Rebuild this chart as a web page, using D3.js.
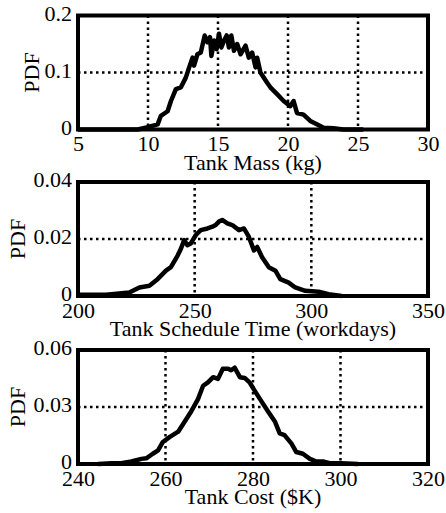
<!DOCTYPE html>
<html>
<head>
<meta charset="utf-8">
<script src="https://cdn.jsdelivr.net/npm/d3@7"></script>
<style>
  body { margin: 0; background: #fff; }
  svg text { font-family: "Liberation Serif", "Times New Roman", serif; fill: #000; }
</style>
</head>
<body>
<svg width="446" height="513"></svg>
<script>
// panel 1 : tank mass
var massX = [5, 9.27, 9.98, 10.69, 10.92, 11.4, 11.64, 11.99, 12.35, 12.7, 12.94, 13.18, 13.29, 13.53, 13.77,
    14.05, 14.24, 14.43, 14.53, 14.72, 14.9, 15.07, 15.24, 15.43, 15.62, 15.78, 15.95, 16.14, 16.37, 16.61,
    16.97, 17.2, 17.44, 17.68, 17.8, 18.03, 18.51, 18.74, 19.22, 19.69, 20.17, 20.4, 20.64, 21.11, 21.59,
    22.06, 22.54, 23.25, 23.96, 25.38];
var massY = [0, 0, 0.004, 0.009, 0.024, 0.032, 0.05, 0.071, 0.074, 0.091, 0.109, 0.126, 0.112, 0.132, 0.135,
    0.165, 0.153, 0.162, 0.129, 0.156, 0.141, 0.168, 0.144, 0.156, 0.165, 0.144, 0.165, 0.138, 0.15, 0.132,
    0.147, 0.126, 0.135, 0.109, 0.126, 0.1, 0.082, 0.074, 0.062, 0.05, 0.041, 0.05, 0.029, 0.026, 0.015,
    0.009, 0.003, 0.002, 0, 0];

// panel 2 : schedule time
var timeX = [200.7, 212.1, 222, 226.3, 230.6, 234.1, 237.7, 239.8, 242.7, 244.1, 245.5, 246.9, 248.3, 250.5,
    252.6, 255.5, 257.6, 259, 260.4, 261.8, 264, 266.1, 269, 271.1, 273.2, 275.4, 276.8, 278.9, 281.8,
    284.6, 286.7, 290.3, 293.1, 297.4, 303.1, 307.4, 313];
var timeY = [0.0004, 0.0004, 0.0012, 0.003, 0.0036, 0.0059, 0.0089, 0.0101, 0.0142, 0.0166, 0.0196, 0.0178,
    0.0184, 0.0214, 0.0231, 0.0237, 0.0243, 0.0249, 0.0261, 0.0267, 0.0255, 0.0249, 0.0231, 0.0237, 0.0208,
    0.016, 0.0172, 0.0136, 0.0101, 0.0089, 0.0059, 0.0047, 0.003, 0.0018, 0.0015, 0.0006, 0];

// panel 3 : cost
var costX = [244.6, 247.6, 249.9, 252.2, 254.5, 255.6, 257.1, 258.3, 259.4, 261, 262.9, 264.4, 265.9, 267.4,
    268.6, 269.7, 270.9, 272, 273.1, 274.3, 275, 275.8, 277, 278.1, 279.2, 280.4, 281.9, 283.4, 285,
    286.1, 287.2, 288.8, 289.9, 291.4, 293, 294.5, 296, 297.5, 300.2, 304];
var costY = [0, 0.0004, 0.0004, 0.0013, 0.0027, 0.003, 0.0054, 0.0072, 0.0116, 0.0143, 0.017, 0.0224, 0.0278,
    0.034, 0.0412, 0.043, 0.0457, 0.0448, 0.0501, 0.0501, 0.0493, 0.0507, 0.0457, 0.0453, 0.043, 0.0385,
    0.0331, 0.0278, 0.0224, 0.0161, 0.0152, 0.0107, 0.0063, 0.0054, 0.0027, 0.0013, 0.0013, 0.0004,
    0.0004, 0];

var panels = [
    { xs: massX, ys: massY, xDom: [5, 30], xTicks: [5, 10, 15, 20, 25, 30], yDom: [0, 0.2], yTicks: [0, 0.1, 0.2],
      yFmt: d => d == 0 ? "0" : d3.format(".1f")(d), label: "Tank Mass (kg)", pdfX: 39 },
    { xs: timeX, ys: timeY, xDom: [200, 350], xTicks: [200, 250, 300, 350], yDom: [0, 0.04], yTicks: [0, 0.02, 0.04],
      yFmt: d => d == 0 ? "0" : d3.format(".2f")(d), label: "Tank Schedule Time (workdays)", pdfX: 25 },
    { xs: costX, ys: costY, xDom: [240, 320], xTicks: [240, 260, 280, 300, 320], yDom: [0, 0.06], yTicks: [0, 0.03, 0.06],
      yFmt: d => d == 0 ? "0" : d3.format(".2f")(d), label: "Tank Cost ($K)", pdfX: 25 }
];

var svg = d3.select("svg");
var left = 78, right = 428;
var tops = [15.5, 182, 350], h = 114;

panels.forEach(function (p, k) {
    var top = tops[k], bot = top + h;
    var g = svg.append("g");

    var scX = d3.scaleLinear().domain(p.xDom).range([left, right]);
    var scY = d3.scaleLinear().domain(p.yDom).range([bot, top]);

    // dotted grid
    g.selectAll("line.vg")
        .data(p.xTicks.slice(1, -1))
        .enter().append("line")
        .attr("x1", d => scX(d)).attr("x2", d => scX(d))
        .attr("y1", top).attr("y2", bot)
        .attr("stroke", "#000").attr("stroke-width", 2.5).attr("stroke-dasharray", "2.5,3.5");
    g.selectAll("line.hg")
        .data(p.yTicks.slice(1, -1))
        .enter().append("line")
        .attr("x1", left).attr("x2", right)
        .attr("y1", d => scY(d)).attr("y2", d => scY(d))
        .attr("stroke", "#000").attr("stroke-width", 2.5).attr("stroke-dasharray", "2.5,3.5");

    var pts = p.xs.map((x, i) => [x, p.ys[i]]);
    var line = d3.line().x(d => scX(d[0])).y(d => scY(d[1]));
    g.append("path")
        .attr("d", line(pts))
        .attr("fill", "none").attr("stroke", "#000").attr("stroke-width", 4.5)
        .attr("stroke-linejoin", "round");

    g.append("rect")
        .attr("x", left).attr("y", top).attr("width", right - left).attr("height", h)
        .attr("fill", "none").attr("stroke", "#000").attr("stroke-width", 4);

    var ax = g.append("g")
        .attr("transform", "translate(0," + bot + ")")
        .call(d3.axisBottom(scX).tickValues(p.xTicks).tickSize(0).tickPadding(6).tickFormat(d3.format("d")));
    var ay = g.append("g")
        .attr("transform", "translate(" + left + ",0)")
        .call(d3.axisLeft(scY).tickValues(p.yTicks).tickSize(0).tickPadding(6).tickFormat(p.yFmt));
    [ax, ay].forEach(function (a) {
        a.select(".domain").remove();
        a.selectAll("text").attr("font-size", 22).attr("font-family", "Liberation Serif").attr("fill", "#000");
    });
    ay.selectAll("text").attr("dy", "0.22em");

    g.append("text")
        .attr("x", (left + right) / 2).attr("y", bot + 40)
        .attr("text-anchor", "middle").attr("font-size", 22)
        .text(p.label);

    g.append("text")
        .attr("transform", "translate(" + p.pdfX + "," + (top + h / 2) + ") rotate(-90)")
        .attr("text-anchor", "middle").attr("font-size", 22)
        .text("PDF");
});
</script>
</body>
</html>
